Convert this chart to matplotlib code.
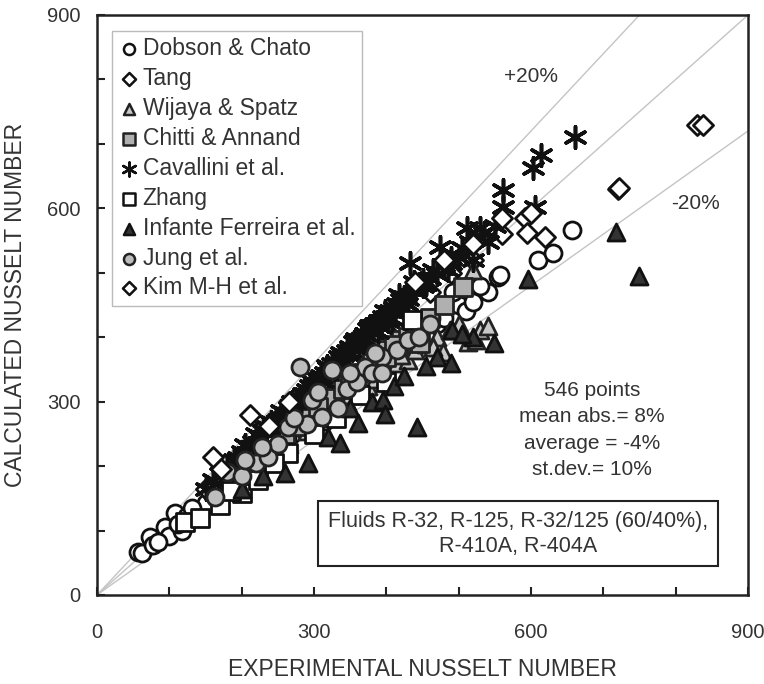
import matplotlib
matplotlib.use("Agg")
from matplotlib import pyplot as plt
from matplotlib.ticker import FixedLocator, FuncFormatter

plt.rcParams['font.family'] = ['Liberation Sans', 'DejaVu Sans']

TEXT = "#333333"

# experimental (x) vs calculated (y) Nusselt numbers
dobson_x = [57, 62, 73, 78, 94, 100, 108, 118, 125, 140, 150, 165, 180, 195, 210, 225, 240, 255,
            270, 285, 300, 315, 330, 345, 360, 375, 390, 405, 420, 440, 455, 470, 480, 500, 510,
            520, 540, 554, 557, 610, 631, 657,
            85, 112, 132, 158, 188, 232, 262, 292, 322, 352, 382, 412, 432, 462, 492, 530]
dobson_y = [67, 65, 90, 78, 106, 92, 127, 100, 122, 128, 142, 150, 172, 185, 195, 212, 225, 232,
            250, 258, 280, 270, 300, 310, 320, 335, 340, 360, 370, 395, 400, 420, 430, 450, 440,
            455, 470, 494, 497, 520, 531, 566,
            82, 110, 135, 160, 178, 218, 245, 268, 288, 318, 352, 375, 405, 430, 470, 480]

tang_x = [150, 175, 200, 220, 245, 270, 290, 310, 330, 350, 370, 400, 430, 460, 490, 520, 560,
          592, 594, 619, 720, 830, 195, 255, 315, 385]
tang_y = [165, 190, 215, 235, 265, 290, 305, 320, 350, 360, 380, 410, 440, 470, 500, 520, 560,
          585, 562, 556, 630, 730, 205, 280, 335, 395]

wijaya_x = [240, 265, 290, 310, 330, 345, 360, 375, 390, 400, 415, 430, 440, 455, 470, 478, 488,
            500, 513, 520, 524, 530, 350, 385, 420, 445, 465, 540]
wijaya_y = [215, 235, 255, 275, 290, 300, 320, 325, 345, 350, 360, 365, 380, 390, 400, 377, 411,
            420, 393, 504, 396, 411, 310, 335, 372, 395, 385, 418]

chitti_x = [200, 230, 260, 290, 320, 340, 360, 380, 390, 400, 420, 430, 440, 447, 460, 480, 506,
            275, 305, 350, 410]
chitti_y = [190, 215, 250, 275, 305, 320, 345, 360, 380, 370, 395, 400, 410, 391, 430, 450, 478,
            262, 292, 335, 388]

cavallini_x = [150, 160, 170, 180, 190, 200, 205, 215, 220, 230, 240, 250, 255, 265, 270, 280,
               290, 295, 300, 310, 315, 320, 330, 335, 340, 350, 355, 360, 370, 375, 380, 390,
               395, 400, 410, 420, 425, 430, 433, 440, 450, 451, 460, 470, 474, 480, 489, 490,
               500, 511, 520, 530, 540, 561, 561, 603, 606, 614, 661,
               185, 210, 235, 260, 285, 305, 325, 345, 365, 385, 405, 415, 445,
               175, 195, 225, 245, 262, 275, 288, 298, 308, 318, 328, 338, 348, 358, 368, 378,
               388, 398, 408, 418, 428, 438, 455, 465, 485, 505, 515, 535, 550,
               228, 252, 268, 282, 302, 312, 332, 342, 362, 372, 392, 402, 412]
cavallini_y = [165, 178, 188, 200, 210, 222, 232, 238, 250, 255, 268, 272, 285, 290, 300, 305,
               318, 325, 328, 340, 345, 352, 362, 370, 372, 385, 392, 395, 405, 412, 418, 425,
               432, 432, 445, 458, 462, 460, 515, 472, 480, 489, 492, 498, 540, 512, 523, 515,
               525, 570, 520, 570, 548, 628, 602, 663, 602, 683, 711,
               198, 228, 260, 282, 312, 335, 358, 378, 398, 420, 440, 452, 482,
               188, 212, 245, 265, 280, 300, 312, 330, 335, 356, 350, 375, 372, 398, 392, 418,
               408, 440, 428, 465, 452, 485, 482, 505, 505, 538, 548, 562, 572,
               242, 268, 282, 300, 320, 332, 352, 362, 385, 396, 416, 425, 438]

zhang_x = [122, 142, 170, 200, 222, 264, 300, 330, 364, 400, 436, 185, 245]
zhang_y = [113, 119, 140, 158, 178, 220, 250, 275, 310, 330, 427, 162, 205]

infante_x = [200, 230, 260, 292, 320, 336, 361, 380, 395, 398, 410, 425, 442, 470, 489, 491,
             520, 549, 596, 717, 749, 350, 455, 505]
infante_y = [165, 185, 189, 205, 245, 236, 267, 300, 302, 281, 325, 340, 261, 370, 360, 411,
             400, 391, 490, 563, 495, 290, 355, 405]

jung_x = [163, 180, 200, 220, 236, 250, 264, 281, 290, 297, 311, 325, 333, 345, 360, 370, 380,
          394, 394, 415, 430, 445, 460, 205, 228, 272, 305, 350, 385]
jung_y = [152, 191, 185, 205, 214, 235, 261, 354, 265, 303, 276, 349, 290, 320, 330, 354, 345,
          369, 344, 380, 395, 400, 420, 210, 230, 275, 315, 345, 375]

kim_x = [160, 172, 212, 238, 265, 440, 480, 520, 560, 600, 722, 838]
kim_y = [214, 195, 279, 262, 300, 485, 520, 545, 585, 592, 632, 730]

series = [
    ("Dobson & Chato", dobson_x, dobson_y, "o", "white", "#111111"),
    ("Tang", tang_x, tang_y, "D", "white", "#111111"),
    ("Wijaya & Spatz", wijaya_x, wijaya_y, "^", "#c8c8c8", "#222222"),
    ("Chitti & Annand", chitti_x, chitti_y, "s", "#b0b0b0", "#222222"),
    ("Cavallini et al.", cavallini_x, cavallini_y, (6, 2, 0), "#111111", "#111111"),
    ("Zhang", zhang_x, zhang_y, "s", "white", "#111111"),
    ("Infante Ferreira et al.", infante_x, infante_y, "^", "#333333", "#111111"),
    ("Jung et al.", jung_x, jung_y, "o", "#bdbdbd", "#222222"),
    ("Kim M-H et al.", kim_x, kim_y, "D", "white", "#111111"),
]

fig = plt.figure(figsize=(7.64, 6.84), dpi=100)
ax = fig.add_axes([97 / 764, 1 - 595 / 684, 651 / 764, 580 / 684])

# reference lines: exact, +20 %, -20 %
ax.plot([0, 900], [0, 900], color="#c4c4c4", lw=1.0, zorder=1)
ax.plot([0, 750], [0, 900], color="#c4c4c4", lw=1.0, zorder=1)
ax.plot([0, 900], [0, 720], color="#c4c4c4", lw=1.0, zorder=1)

for name, xs, ys, m, fc, ec in series:
    if isinstance(m, tuple):
        size, lw = 240, 2.6
    elif m == "D":
        size, lw = 105, 2.0
    else:
        size, lw = 150, 2.0
    ax.scatter(xs, ys, marker=m, s=size, facecolors=fc, edgecolors=ec,
               linewidths=lw, label=name, zorder=3)

ax.set_xlim(0, 900)
ax.set_ylim(0, 900)

ticks = list(range(0, 901, 100))
fmt = FuncFormatter(lambda v, p: f"{v:.0f}" if int(v) % 300 == 0 else "")
for axis in (ax.xaxis, ax.yaxis):
    axis.set_major_locator(FixedLocator(ticks))
    axis.set_major_formatter(fmt)
ax.tick_params(direction="in", length=6, width=1.5, labelsize=14.5, colors="#222222",
               labelcolor=TEXT)
ax.tick_params(axis="x", pad=20)
ax.tick_params(axis="y", pad=12)
for sp in ax.spines.values():
    sp.set_linewidth(1.8)
    sp.set_color("#222222")

ax.set_xlabel("EXPERIMENTAL NUSSELT NUMBER", fontsize=16.5, color=TEXT, labelpad=12)
ax.set_ylabel("CALCULATED NUSSELT NUMBER", fontsize=16.5, color=TEXT, labelpad=14)

leg = ax.legend(loc="upper left", bbox_to_anchor=(0.005, 0.993), fontsize=16.5,
                frameon=True, fancybox=False, edgecolor="#bbbbbb", framealpha=1,
                handletextpad=0.15, labelspacing=0.3, borderpad=0.3,
                handlelength=0.9, markerscale=0.65, scatterpoints=1)
leg.get_frame().set_linewidth(1.0)
for t in leg.get_texts():
    t.set_color(TEXT)
for h in leg.legend_handles:
    h.set_linewidths(1.8)

ax.text(600, 805, "+20%", fontsize=15, color=TEXT, ha="center", va="center")
ax.text(827, 607, "-20%", fontsize=15, color=TEXT, ha="center", va="center")

ax.text(684, 256, "546 points\nmean abs.= 8%\naverage = -4%\nst.dev.= 10%",
        fontsize=15, color=TEXT, ha="center", va="center", linespacing=1.5)

ax.text(582, 95, "Fluids R-32, R-125, R-32/125 (60/40%),\nR-410A, R-404A",
        fontsize=15.5, color=TEXT, ha="center", va="center", linespacing=1.25,
        bbox=dict(boxstyle="square,pad=0.45", facecolor="white", edgecolor="#222222",
                  linewidth=1.5), zorder=5)

fig.savefig("out.png", dpi=100)
